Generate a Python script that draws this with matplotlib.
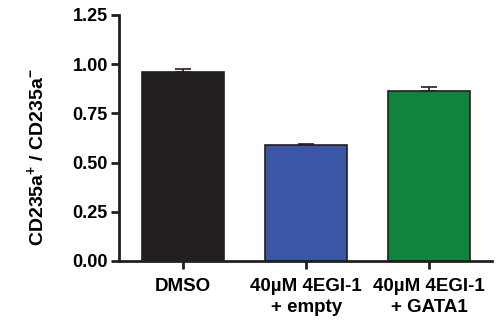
import numpy as np
import matplotlib.pyplot as plt

plt.rcParams['font.family'] = ['Liberation Sans', 'DejaVu Sans']
plt.rcParams['font.weight'] = 'bold'
plt.rcParams['mathtext.fontset'] = 'custom'
plt.rcParams['mathtext.bf'] = 'Liberation Sans:bold'
plt.rcParams['mathtext.rm'] = 'Liberation Sans:bold'

# dados
grupos = ["DMSO", "40µM 4EGI-1\n+ empty", "40µM 4EGI-1\n+ GATA1"]
medias = [0.960, 0.590, 0.865]
erros = [0.017, 0.006, 0.020]
cores = ["#231f20", "#3a56a5", "#10843f"]

fig = plt.figure(figsize=(4.98, 3.23), dpi=100)
ax = fig.add_axes([0.239, 0.192, 0.749, 0.762])

x = np.arange(len(grupos))
ax.bar(x, medias, width=0.67, color=cores, edgecolor="#231f20", linewidth=1.2, zorder=2)
ax.errorbar(x, medias, yerr=[np.zeros(3), erros], fmt="none", ecolor="#231f20",
            elinewidth=1.2, capsize=6, capthick=1.2, zorder=1)

ax.set_xlim(-0.52, 2.51)
ax.set_ylim(0, 1.25)
ax.set_yticks([0, 0.25, 0.5, 0.75, 1.0, 1.25])
ax.set_yticklabels(["0.00", "0.25", "0.50", "0.75", "1.00", "1.25"])
ax.set_xticks(x)
ax.set_xticklabels(grupos, linespacing=1.3)

for lado in ["top", "right"]:
    ax.spines[lado].set_visible(False)
for lado in ["left", "bottom"]:
    ax.spines[lado].set_linewidth(2)
    ax.spines[lado].set_color("#231f20")

ax.tick_params(axis="y", length=6, width=2, color="#231f20", labelsize=13, pad=2)
ax.tick_params(axis="x", length=6, width=2, color="#231f20", labelsize=13.5, pad=6)

ax.set_ylabel(r"CD235a$^{\mathbf{+}}$ / CD235a$^{\mathbf{-}}$", fontsize=14,
              fontweight="bold")
ax.yaxis.set_label_coords(-0.19, 0.42)

fig.savefig("out.png", dpi=100)
